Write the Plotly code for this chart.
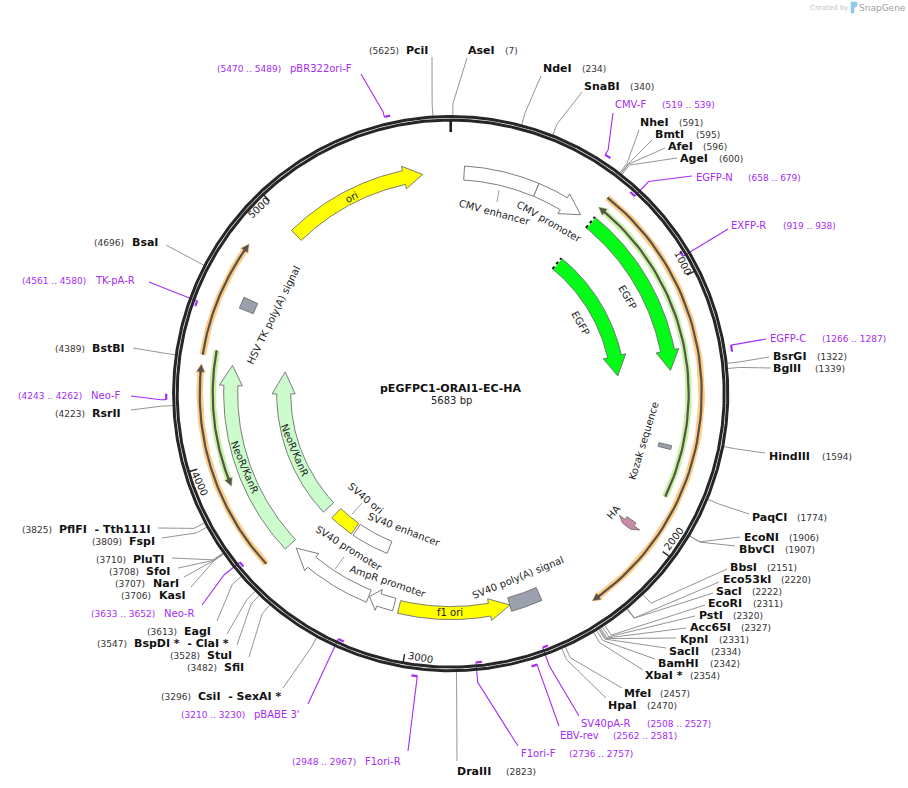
import numpy as np
import plotly.graph_objects as go

PLASMID_NAME = "pEGFPC1-ORAI1-EC-HA"
TOTAL_BP = 5683

# Restriction sites
ENZYME_NAMES = ["AseI", "NdeI", "SnaBI", "NheI", "BmtI", "AfeI", "AgeI", "BsrGI", "BglII", "HindIII",
                "PaqCI", "EcoNI", "BbvCI", "BbsI", "Eco53kI", "SacI", "EcoRI", "PstI", "Acc65I", "KpnI",
                "SacII", "BamHI", "XbaI *", "MfeI", "HpaI", "DraIII",
                "CsiI\u00a0\u00a0-\u00a0SexAI *", "SfiI", "StuI", "BspDI *\u00a0\u00a0-\u00a0ClaI *", "EagI",
                "KasI", "NarI", "SfoI", "PluTI", "FspI", "PflFI\u00a0\u00a0-\u00a0Tth111I",
                "RsrII", "BstBI", "BsaI", "PciI"]
ENZYME_SITES = [7, 234, 340, 591, 595, 596, 600, 1322, 1339, 1594,
                1774, 1906, 1907, 2151, 2220, 2222, 2311, 2320, 2327, 2331,
                2334, 2342, 2354, 2457, 2470, 2823,
                3296, 3482, 3528, 3547, 3613,
                3706, 3707, 3708, 3710, 3809, 3825,
                4223, 4389, 4696, 5625]

# Primer binding sites
PRIMER_NAMES = ["CMV-F", "EGFP-N", "EXFP-R", "EGFP-C", "SV40pA-R", "EBV-rev", "F1ori-F", "F1ori-R",
                "pBABE 3'", "Neo-R", "Neo-F", "TK-pA-R", "pBR322ori-F"]
PRIMER_START = [519, 658, 919, 1266, 2508, 2562, 2736, 2948, 3210, 3633, 4243, 4561, 5470]
PRIMER_END = [539, 679, 938, 1287, 2527, 2581, 2757, 2967, 3230, 3652, 4262, 4580, 5489]

# Features, drawn from start towards end
FEATURE_NAMES = ["CMV enhancer", "CMV promoter", "EGFP", "EGFP", "Kozak sequence", "HA",
                 "SV40 poly(A) signal", "f1 ori", "AmpR promoter", "SV40 promoter", "SV40 enhancer",
                 "SV40 ori", "NeoR/KanR", "NeoR/KanR", "HSV TK poly(A) signal", "ori"]
FEATURE_START = [55, 360, 619, 619, 1630, 1972, 2466, 3056, 3078, 3189, 3184, 3399, 3580, 3584, 4610, 4984]
FEATURE_END = [360, 568, 1326, 1326, 1646, 2005, 2595, 2594, 3186, 3552, 3388, 3532, 4378, 4380, 4657, 5568]

# Translated frames (thin arrows)
FRAME_START = [1826, 610, 3588, 4403, 4428]
FRAME_END = [606, 2300, 4370, 4840, 3900]

TICK_VALUES = [1000, 2000, 3000, 4000, 5000]

# ---- layout / style below, in page pixels ----
W, H = 908, 788
CX, CY = 450.7, 393.6
R_RING_OUT, R_RING_IN = 277.1, 273.5
R_ELBOW = 290
R_PRIMER_OUT, R_PRIMER_IN = 284.5, 270

INK = "#222222"
PURPLE = "#a52cf5"
LEADER = "#949494"
BOLD = "DejaVu Sans"

FEATURE_LANES = [(214, 228), (214, 228), (214, 228), (161, 175), (214, 227), (215, 226), (212, 226), (213, 226),
                 (212, 225), (212, 225), (159, 172), (159, 172), (213, 227), (160, 174), (213, 228), (214, 228)]
FEATURE_COLORS = ["#ffffff", "#ffffff", "#03fb17", "#03fb17", "#9aa1ac", "#c98aa8",
                  "#9aa1ac", "#ffff00", "#ffffff", "#ffffff", "#ffffff",
                  "#ffff00", "#ccfccc", "#ccfccc", "#9aa1ac", "#ffff00"]
FEATURE_HEADS = [0, 20, 20, 20, 0, 4.6, 0, 21, 10, 21, 0, 0, 20, 22, 0, 19]
FEATURE_TEXT_X = [495, 549, 581, 628, 643, 613, 518, 450, 388, 349, 404, 366, 245, 295, 273, 351]
FEATURE_TEXT_Y = [212, 221, 323, 297, 441, 512, 577, 612, 581, 548, 529, 498, 467, 450, 315, 197]
FEATURE_TEXT_ROT = [15, 30, 60, 60, -73, -50, -22, 0, 19, 32, 21, 40, 67, 67, -64, -27]

FRAME_R = [238, 251, 251, 251, 238]
FRAME_LIGHT = ["#c6f3a0", "#ffcb85", "#ffcb85", "#ffcb85", "#c6f3a0"]

TICK_TEXT_X = [683, 673, 420, 200, 258]
TICK_TEXT_Y = [262, 539, 657, 483, 208]
TICK_TEXT_ROT = [63, -53, 10, 65, -43]

# name x, name y, number x, leader end x, leader end y
ENZYME_NAME_X = [468, 543, 584, 640, 655, 668, 680, 773, 773, 769,
                 752, 744, 739, 730, 723, 716, 708, 699, 690, 680,
                 669, 658, 645, 624, 608, 457,
                 198, 224, 207, 134, 184,
                 159, 153, 146, 133, 129, 59,
                 92, 92, 132, 406]
ENZYME_NAME_Y = [50, 68, 86, 122, 134, 146, 158, 356, 368, 456,
                 517, 537, 549, 567, 579, 591, 603, 615, 627, 639,
                 651, 663, 675, 693, 705, 771,
                 696, 667, 655, 643, 631,
                 595, 583, 571, 559, 541, 529,
                 413, 348, 242, 50]
ENZYME_NUM_X = [505, 582, 630, 679, 696, 703, 719, 817, 815, 822,
                797, 789, 785, 767, 781, 752, 753, 733, 741, 719,
                711, 710, 690, 660, 647, 506,
                161, 187, 170, 97, 147,
                121, 115, 109, 96, 92, 22,
                55, 55, 94, 369]
ENZYME_LEAD_X = [467, 541, 582, 639, 652, 665, 677, 769, 771, 765,
                 749, 740, 735, 727, 719, 713, 705, 695, 686, 676,
                 666, 655, 643, 622, 606, 457,
                 283, 249, 237, 227, 217,
                 191, 184, 178, 172, 162, 158,
                 131, 133, 166, 432]
ENZYME_LEAD_Y = [58, 76, 92, 130, 140, 148, 158, 357, 368, 453,
                 514, 537, 546, 569, 582, 593, 605, 616, 628, 638,
                 648, 659, 670, 688, 698, 761,
                 688, 657, 645, 634, 621,
                 587, 577, 568, 558, 538, 528,
                 410, 348, 245, 57]

PRIMER_NAME_X = [615, 696, 731, 770, 581, 560, 521, 365, 254, 164, 91, 95, 290]
PRIMER_NAME_Y = [104, 177, 225, 338, 723, 735, 753, 761, 714, 613, 395, 280, 68]
PRIMER_NUM_X = [662, 748, 783, 822, 647, 613, 569, 292, 181, 91, 18, 22, 217]
PRIMER_LEAD_X = [613, 692, 728, 766, 579, 559, 518, 408, 308, 202, 131, 149, 361]
PRIMER_LEAD_Y = [113, 176, 229, 339, 716, 726, 746, 751, 704, 605, 396, 282, 74]
PRIMER_OUTSIDE = [True, False, False, True, False, True, False, True, False, False, True, False, True]


def polar(bp, r):
    a = 2 * np.pi * np.asarray(bp, dtype=float) / TOTAL_BP
    return CX + r * np.sin(a), CY - r * np.cos(a)


def arc(start, end, r, n=60):
    return polar(np.linspace(start, end, n), r)


def arrow_outline(start, end, r0, r1, head_px, flare=4.5, blunt=0):
    # closed outline of a curved block, with an arrow head when head_px is set
    rm = (r0 + r1) / 2
    sign = 1 if end >= start else -1
    head_bp = head_px / rm * TOTAL_BP / (2 * np.pi)
    base = end - sign * head_bp
    if not head_px:
        xo, yo = arc(start, end, r1)
        xi, yi = arc(end, start, r0)
        return list(xo) + list(xi) + [xo[0]], list(yo) + list(yi) + [yo[0]]
    xo, yo = arc(start, base, r1)
    xi, yi = arc(base, start, r0)
    cx1, cy1 = polar(base, r1 + flare)
    tx1, ty1 = polar(end, rm + blunt)
    tx0, ty0 = polar(end, rm - blunt)
    cx0, cy0 = polar(base, r0 - flare)
    xs = list(xo) + [cx1, tx1, tx0, cx0] + list(xi) + [xo[0]]
    ys = list(yo) + [cy1, ty1, ty0, cy0] + list(yi) + [yo[0]]
    return xs, ys


def line(fig, xs, ys, color, width, dash=None):
    fig.add_trace(go.Scatter(x=xs, y=ys, mode="lines", hoverinfo="skip",
                             line=dict(color=color, width=width, dash=dash)))


def poly(fig, xs, ys, fill, edge="#6e6e6e", width=0.9):
    fig.add_trace(go.Scatter(x=xs, y=ys, mode="lines", fill="toself", fillcolor=fill, hoverinfo="skip",
                             line=dict(color=edge, width=width)))


def label(fig, x, y, text, size=10, color=INK, bold=False, anchor="left", rot=0):
    fig.add_annotation(x=x, y=y, text=f"<b>{text}</b>" if bold else text, showarrow=False,
                       xanchor=anchor, yanchor="middle", textangle=rot, borderpad=0, borderwidth=0,
                       font=dict(family=BOLD, size=size, color=color))


fig = go.Figure()

# translated frames
for start, end, r, light in zip(FRAME_START, FRAME_END, FRAME_R, FRAME_LIGHT):
    sign = 1 if end >= start else -1
    stop = end - sign * 8 / r * TOTAL_BP / (2 * np.pi)
    xs, ys = arc(start, stop, r)
    line(fig, xs, ys, light, 6.5)
    xs, ys = arrow_outline(stop, end, r - 3, r + 3, 9, flare=2)
    poly(fig, xs, ys, light, edge=light, width=0.5)
    xs, ys = arc(start, stop, r)
    line(fig, xs, ys, "#55534c", 2.2)
    xs, ys = arrow_outline(stop - sign * 3, end - sign * 3, r - 1, r + 1, 7, flare=2.5)
    poly(fig, xs, ys, "#55534c", edge="#55534c", width=0.4)

# features
for i, name in enumerate(FEATURE_NAMES):
    r0, r1 = FEATURE_LANES[i]
    if name == "HA":
        xs, ys = arrow_outline(FEATURE_START[i], FEATURE_END[i], r0, r1, FEATURE_HEADS[i], flare=7, blunt=5)
    else:
        xs, ys = arrow_outline(FEATURE_START[i], FEATURE_END[i], r0, r1, FEATURE_HEADS[i])
    poly(fig, xs, ys, FEATURE_COLORS[i])
    if name == "EGFP":
        # open end of the truncated feature
        x0, y0 = polar(FEATURE_START[i], r0)
        x1, y1 = polar(FEATURE_START[i], r1)
        line(fig, [x0, x1], [y0, y1], "#ffffff", 2)
        line(fig, [x0, x1], [y0, y1], "#111111", 2, dash="dot")
    label(fig, FEATURE_TEXT_X[i], FEATURE_TEXT_Y[i], name, anchor="center", rot=FEATURE_TEXT_ROT[i])

# little connectors for the labels that sit away from their block
line(fig, [352, 362], [514, 503], LEADER, 0.9)
line(fig, [335, 344], [569, 557], LEADER, 0.9)
line(fig, [497, 499], [202, 190], LEADER, 0.9)

# enzyme leaders and labels
for i, name in enumerate(ENZYME_NAMES):
    x0, y0 = polar(ENZYME_SITES[i], R_RING_OUT + 1)
    x1, y1 = polar(ENZYME_SITES[i], R_ELBOW)
    line(fig, [x0, x1, ENZYME_LEAD_X[i]], [y0, y1, ENZYME_LEAD_Y[i]], LEADER, 1)
    label(fig, ENZYME_NAME_X[i], ENZYME_NAME_Y[i], name, size=11, color="#111111", bold=True)
    label(fig, ENZYME_NUM_X[i], ENZYME_NAME_Y[i] + 0.5, f"({ENZYME_SITES[i]})", size=9, color="#333333")

# primers: outside ones hang from their start, inside ones from their end
for i, name in enumerate(PRIMER_NAMES):
    r = R_PRIMER_OUT if PRIMER_OUTSIDE[i] else R_PRIMER_IN
    xs, ys = arc(PRIMER_START[i], PRIMER_END[i], r, n=8)
    hang = PRIMER_START[i] if PRIMER_OUTSIDE[i] else PRIMER_END[i]
    x0, y0 = polar(hang, r)
    x1, y1 = polar(hang, R_ELBOW)
    line(fig, [x0, x1, PRIMER_LEAD_X[i]], [y0, y1, PRIMER_LEAD_Y[i]], PURPLE, 1.1)
    line(fig, xs, ys, PURPLE, 2.2)
    label(fig, PRIMER_NAME_X[i], PRIMER_NAME_Y[i], name, size=10, color=PURPLE)
    label(fig, PRIMER_NUM_X[i], PRIMER_NAME_Y[i] + 0.5, f"({PRIMER_START[i]} .. {PRIMER_END[i]})",
          size=9, color=PURPLE)

# backbone ring, drawn after the leaders
for r in (R_RING_OUT, R_RING_IN):
    xs, ys = arc(0, TOTAL_BP, r, n=720)
    line(fig, xs, ys, "#262626", 3)

# position ticks
x0, y0 = polar(0, R_RING_IN)
x1, y1 = polar(0, R_RING_IN - 12)
line(fig, [x0, x1], [y0, y1], "#222222", 2.6)
for i, value in enumerate(TICK_VALUES):
    x0, y0 = polar(value, R_RING_IN)
    x1, y1 = polar(value, R_RING_IN - 9)
    line(fig, [x0, x1], [y0, y1], "#222222", 1.4)
    label(fig, TICK_TEXT_X[i], TICK_TEXT_Y[i], str(value), anchor="center", rot=TICK_TEXT_ROT[i])

# centre title
label(fig, 451, 388, PLASMID_NAME, size=11, color="#111111", bold=True, anchor="center")
label(fig, 451.5, 400.5, f"{TOTAL_BP} bp", size=10, anchor="center")

# watermark
label(fig, 810, 7.5, "Created by", size=7, color="#c4c4c4")
fig.add_trace(go.Scatter(x=[851, 857, 857, 854, 854, 851, 851], y=[2, 2, 6, 8, 13, 13, 2], mode="lines",
                         fill="toself", fillcolor="#8ccbe8", hoverinfo="skip", line=dict(color="#8ccbe8", width=0.5)))
label(fig, 859, 7.5, "SnapGene", size=9, color="#a0a0a0")

fig.update_layout(
    width=W, height=H, autosize=False, showlegend=False,
    paper_bgcolor="white", plot_bgcolor="white",
    margin=dict(l=0, r=0, t=0, b=0),
    xaxis=dict(range=[0, W], visible=False, fixedrange=True),
    yaxis=dict(range=[H, 0], visible=False, fixedrange=True),
)

# the page's default body margin would push the figure off by 8px
fig.write_html("out.html", config={"displayModeBar": False}, post_script="document.body.style.margin='0';")
